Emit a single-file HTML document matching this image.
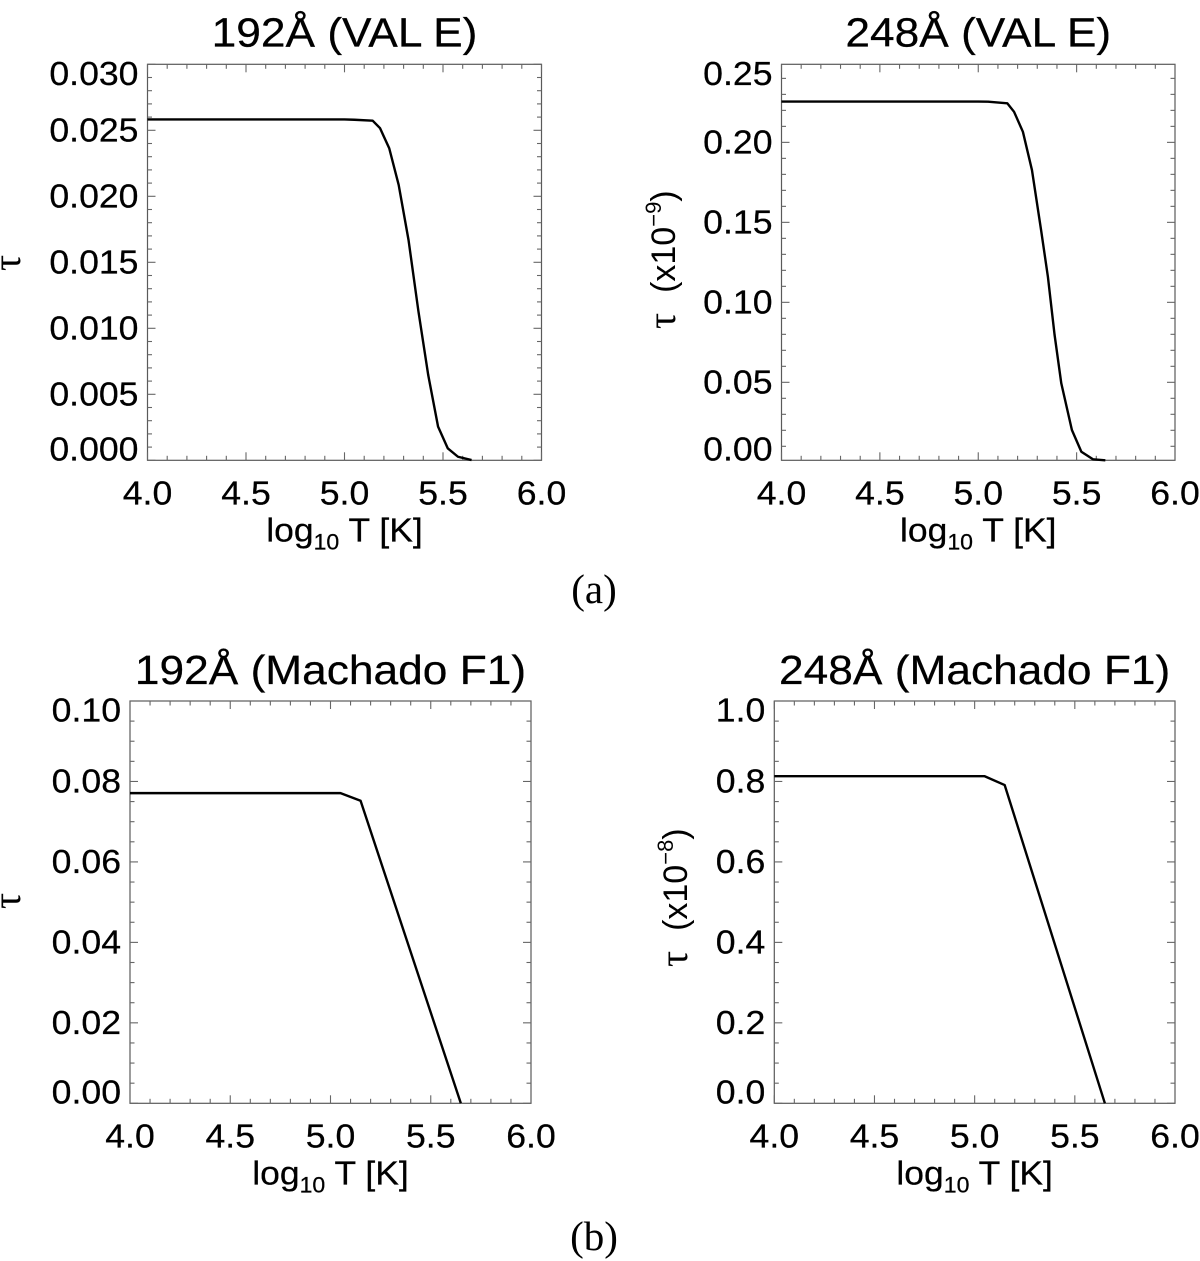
<!DOCTYPE html>
<html>
<head>
<meta charset="utf-8">
<title>Optical depth vs temperature</title>
<style>
html,body{margin:0;padding:0;background:#fff;width:1200px;height:1261px;overflow:hidden}
svg{display:block}
text{fill:#000;font-family:"Liberation Sans",sans-serif}
.serif{font-family:"Liberation Serif",serif}
</style>
</head>
<body>
<svg id="figure" width="1200" height="1261" viewBox="0 0 1200 1261" xmlns="http://www.w3.org/2000/svg">
  <rect width="1200" height="1261" fill="#fff"/>
  <text class="serif" x="594" y="603" font-size="41" text-anchor="middle">(a)</text>
  <text class="serif" x="594" y="1250" font-size="41" text-anchor="middle">(b)</text>
</svg>
<script>
// x axis, shared
const xTickLabels = ["4.0", "4.5", "5.0", "5.5", "6.0"];

// panel a1: 192A VAL E
const a1Temps = [4.0, 5.0, 5.05, 5.143, 5.18, 5.227, 5.275, 5.325, 5.375, 5.425, 5.475, 5.524, 5.576, 5.645];
const a1Tau = [0.02582, 0.02582, 0.0258, 0.02573, 0.02517, 0.02364, 0.02086, 0.01669, 0.01131, 0.00646, 0.00255, 0.00091, 0.00027, 0.00002];
const a1TickLabels = ["0.000", "0.005", "0.010", "0.015", "0.020", "0.025", "0.030"];

// panel a2: 248A VAL E
const a2Temps = [4.0, 5.0, 5.05, 5.148, 5.182, 5.227, 5.273, 5.32, 5.354, 5.388, 5.422, 5.476, 5.524, 5.583, 5.646];
const a2Tau = [0.2255, 0.2255, 0.2254, 0.2244, 0.2191, 0.2066, 0.1827, 0.1446, 0.116, 0.0796, 0.0494, 0.0202, 0.0066, 0.0019, 0.00125];
const a2TickLabels = ["0.00", "0.05", "0.10", "0.15", "0.20", "0.25"];

// panel b1: 192A Machado F1
const b1Temps = [4.0, 5.05, 5.15, 5.65];
const b1Tau = [0.0771, 0.0771, 0.0752, 0.0];
const b1TickLabels = ["0.00", "0.02", "0.04", "0.06", "0.08", "0.10"];

// panel b2: 248A Machado F1
const b2Temps = [4.0, 5.05, 5.15, 5.65];
const b2Tau = [0.813, 0.813, 0.791, 0.0];
const b2TickLabels = ["0.0", "0.2", "0.4", "0.6", "0.8", "1.0"];

const NS = "http://www.w3.org/2000/svg";
const svg = document.getElementById("figure");
const STRETCH = 1.08;

function make(tag, attrs, parent) {
  const el = document.createElementNS(NS, tag);
  for (const k in attrs) el.setAttribute(k, attrs[k]);
  parent.appendChild(el);
  return el;
}

function stretchedText(parent, str, x, y, size, anchor) {
  const t = make("text", {
    transform: "translate(" + x + "," + y + ") scale(" + STRETCH + ",1)",
    "font-size": size,
    "text-anchor": anchor,
    stroke: "#000",
    "stroke-width": 0.25
  }, parent);
  t.textContent = str;
  return t;
}

function drawPanel(p) {
  const g = make("g", {}, svg);
  
  

  const xScale = v => p.left + (v - 4) / 2 * (p.right - p.left);
  const yScale = v => p.bottom - (v - p.yMin) / (p.yMax - p.yMin) * (p.bottom - p.top);

  const frame = make("rect", {
    x: p.left, y: p.top, width: p.right - p.left, height: p.bottom - p.top,
    fill: "none", stroke: "#5a5a5a", "stroke-width": 1.2
  }, g);
  
  

  const tickGroup = make("g", { stroke: "#666", "stroke-width": 1.1 }, g);
  
  

  for (let i = 0; i <= 20; i++) {
    const x = xScale(4 + i * 0.1);
    const len = i % 5 === 0 ? 8 : 4.5;
    make("line", { x1: x, x2: x, y1: p.bottom, y2: p.bottom - len }, tickGroup);
    make("line", { x1: x, x2: x, y1: p.top, y2: p.top + len }, tickGroup);
  }
  for (let i = 0; i <= p.minorCount; i++) {
    const v = i * p.minorStep;
    if (v < p.yMin || v > p.yMax) continue;
    const y = yScale(v);
    const len = i % p.minorPerMajor === 0 ? 8 : 4.5;
    make("line", { x1: p.left, x2: p.left + len, y1: y, y2: y }, tickGroup);
    make("line", { x1: p.right, x2: p.right - len, y1: y, y2: y }, tickGroup);
  }

  xTickLabels.forEach(label => {
    const t = stretchedText(g, label, xScale(parseFloat(label)), p.bottom + 44, 33, "middle");
    
    
  });

  p.yLabels.forEach(label => {
    const raw = yScale(parseFloat(label));
    const cy = Math.min(Math.max(raw, p.top + 9.5), p.bottom - 11);
    const t = stretchedText(g, label, p.left - 9, cy + 11, 33, "end");
    
    
  });

  const d = p.temps.map((v, i) => (i ? "L" : "M") + xScale(v).toFixed(2) + " " + yScale(p.tau[i]).toFixed(2)).join(" ");
  const line = make("path", { d: d, fill: "none", stroke: "#000", "stroke-width": 2.4, "stroke-linejoin": "round" }, g);
  
  

  const title = stretchedText(g, p.title, (p.left + p.right) / 2, p.titleY, 41, "middle");
  
  

  const xTitle = make("text", {
    transform: "translate(" + ((p.left + p.right) / 2) + "," + (p.bottom + 81) + ") scale(1.05,1)",
    "font-size": 33.8, "text-anchor": "middle", stroke: "#000", "stroke-width": 0.25
  }, g);
  
  
  const a = make("tspan", {}, xTitle); a.textContent = "log";
  const b = make("tspan", { "font-size": 22, dy: 8 }, xTitle); b.textContent = "10";
  const c = make("tspan", { dy: -8 }, xTitle); c.textContent = " T [K]";

  const yTitle = make("text", {
    transform: "translate(" + p.tauX + "," + p.tauY + ") rotate(-90)",
    "font-size": 34, "text-anchor": "start"
  }, g);
  
  
  const tau = make("tspan", { class: "serif", "font-size": 40, "font-family": "Liberation Serif, serif" }, yTitle);
  tau.textContent = "\u03C4";
  if (p.exponent) {
    const o = make("tspan", { dx: 20 }, yTitle); o.textContent = "(x10";
    const s = make("tspan", { "font-size": 22, dy: -14 }, yTitle); s.textContent = "\u2212" + p.exponent;
    const e = make("tspan", { dy: 14 }, yTitle); e.textContent = ")";
  }
}

drawPanel({ left: 147.5, right: 541.5, top: 64.3, bottom: 460.3, yMin: 0, yMax: 0.03,
  minorStep: 0.001, minorCount: 30, minorPerMajor: 5,
  yLabels: a1TickLabels, temps: a1Temps, tau: a1Tau,
  title: "192\u00C5 (VAL E)", titleY: 46.5, tauX: 20, tauY: 271, exponent: "" });

drawPanel({ left: 781.5, right: 1175, top: 64.3, bottom: 460.3, yMin: 0.00125, yMax: 0.2488,
  minorStep: 0.01, minorCount: 25, minorPerMajor: 5,
  yLabels: a2TickLabels, temps: a2Temps, tau: a2Tau,
  title: "248\u00C5 (VAL E)", titleY: 46.5, tauX: 675, tauY: 329, exponent: "9" });

drawPanel({ left: 130, right: 531, top: 701, bottom: 1103.3, yMin: 0, yMax: 0.1,
  minorStep: 0.005, minorCount: 20, minorPerMajor: 4,
  yLabels: b1TickLabels, temps: b1Temps, tau: b1Tau,
  title: "192\u00C5 (Machado F1)", titleY: 684, tauX: 20, tauY: 909, exponent: "" });

drawPanel({ left: 774.3, right: 1175, top: 701, bottom: 1103.3, yMin: 0, yMax: 1,
  minorStep: 0.05, minorCount: 20, minorPerMajor: 4,
  yLabels: b2TickLabels, temps: b2Temps, tau: b2Tau,
  title: "248\u00C5 (Machado F1)", titleY: 684, tauX: 687, tauY: 967, exponent: "8" });
</script>
</body>
</html>
